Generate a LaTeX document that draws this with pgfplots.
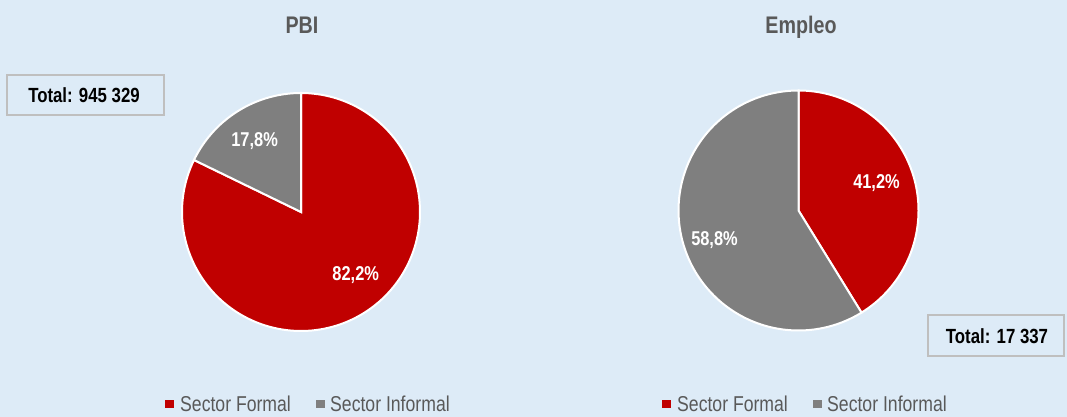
\documentclass[border=0pt]{standalone}
\usepackage{fontspec}
\setmainfont{Liberation Sans}[FakeStretch=0.82]
\usepackage{pgfplots}
\pgfplotsset{compat=1.18}
\definecolor{bg}{HTML}{DDEBF7}
\definecolor{pred}{HTML}{C00000}
\definecolor{pgray}{HTML}{7F7F7F}
\definecolor{tgray}{HTML}{595959}
\definecolor{boxgray}{HTML}{BFBFBF}

% data (percent shares)
\def\pbiFormal{82.2}
\def\pbiInformal{17.8}
\def\empFormal{41.2}
\def\empInformal{58.8}

\begin{document}
\begin{tikzpicture}[x=1pt,y=1pt]
\path[use as bounding box, fill=bg] (0,0) rectangle (1067,417);
\pgfmathsetmacro{\pbiA}{90+3.6*\pbiInformal}
\pgfmathsetmacro{\empA}{90-3.6*\empFormal}
\pgfmathsetmacro{\empB}{\empA+360}

% ---------- PBI ----------
\begin{axis}[at={(301pt,205pt)}, anchor=center, hide axis, scale only axis,
  x=119pt, y=119pt, xmin=-1, xmax=1, ymin=-1, ymax=1, clip=false]
\addplot[fill=pred, draw=white, line width=2pt, domain=\pbiA:450, samples=150, variable=\t]
  ({cos(\t)},{sin(\t)}) -- (axis cs:0,0) -- cycle;
\addplot[fill=pgray, draw=white, line width=2pt, domain=90:\pbiA, samples=40, variable=\t]
  ({cos(\t)},{sin(\t)}) -- (axis cs:0,0) -- cycle;
\node[text=white, font=\bfseries\fontsize{20}{24}\selectfont] at (axis cs:-0.39,0.60) {17,8\%};
\node[text=white, font=\bfseries\fontsize{20}{24}\selectfont] at (axis cs:0.46,-0.53) {82,2\%};
\end{axis}

% ---------- Empleo ----------
\begin{axis}[at={(798.5pt,206.5pt)}, anchor=center, hide axis, scale only axis,
  x=120pt, y=120pt, xmin=-1, xmax=1, ymin=-1, ymax=1, clip=false]
\addplot[fill=pred, draw=white, line width=2pt, domain=\empA:90, samples=80, variable=\t]
  ({cos(\t)},{sin(\t)}) -- (axis cs:0,0) -- cycle;
\addplot[fill=pgray, draw=white, line width=2pt, domain=90:\empB, samples=120, variable=\t]
  ({cos(\t)},{sin(\t)}) -- (axis cs:0,0) -- cycle;
\node[text=white, font=\bfseries\fontsize{20}{24}\selectfont] at (axis cs:0.65,0.23) {41,2\%};
\node[text=white, font=\bfseries\fontsize{20}{24}\selectfont] at (axis cs:-0.70,-0.25) {58,8\%};
\end{axis}

% titles
\node[anchor=base, text=tgray, font=\bfseries\fontsize{24}{28}\selectfont] at (302,383.4) {PBI};
\node[anchor=base, text=tgray, font=\bfseries\fontsize{24}{28}\selectfont] at (801,383.4) {Empleo};

% total boxes
\draw[boxgray, line width=1.5pt] (7,302) rectangle (164,342);
\node[anchor=base, font=\bfseries\fontsize{20.5}{24}\selectfont] at (84,314.7) {Total: 945 329};
\draw[boxgray, line width=1.5pt] (928,61) rectangle (1064,102);
\node[anchor=base, font=\bfseries\fontsize{20.5}{24}\selectfont] at (997,73.7) {Total: 17 337};

% legends
\foreach \dx in {0,497}{
  \fill[pred] (165+\dx,9) rectangle (174+\dx,17);
  \node[anchor=base west, inner sep=0pt, text=tgray, font=\fontsize{21.5}{24}\selectfont] at (180+\dx,5.3) {Sector Formal};
  \fill[pgray] (316+\dx,9) rectangle (325+\dx,17);
  \node[anchor=base west, inner sep=0pt, text=tgray, font=\fontsize{21.5}{24}\selectfont] at (330+\dx,5.3) {Sector Informal};
}
\end{tikzpicture}
\end{document}
